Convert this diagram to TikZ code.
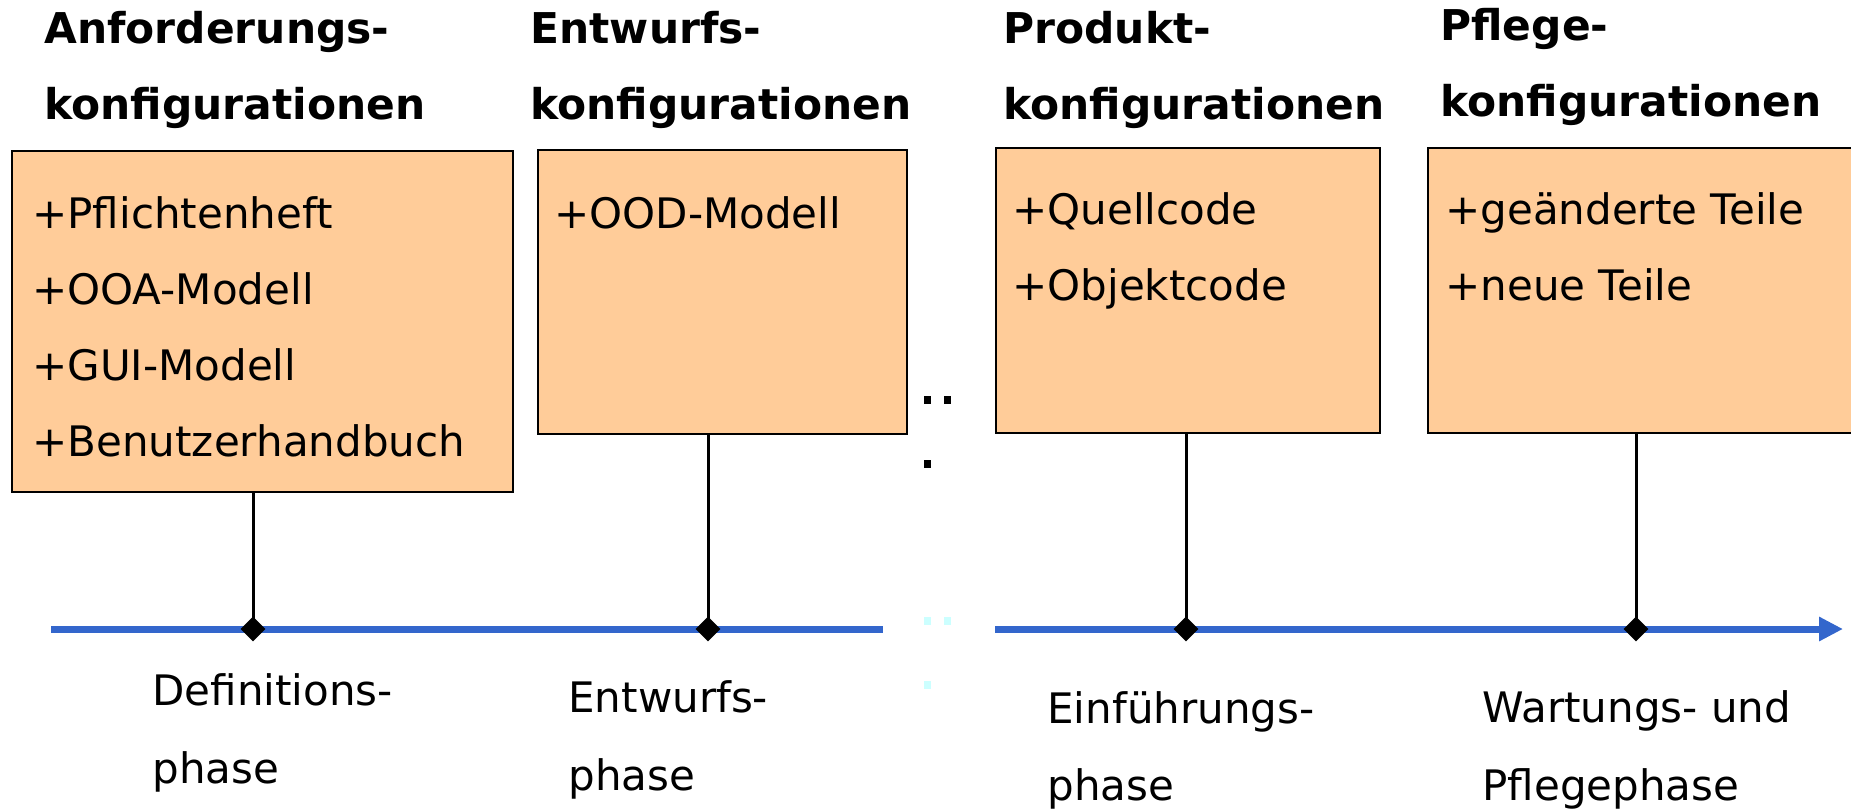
\documentclass[tikz,border=0pt]{standalone}
\usepackage{fontspec}
\setmainfont{DejaVu Sans}
\usetikzlibrary{arrows.meta,shapes.geometric}
\definecolor{peach}{HTML}{FFCC99}
\definecolor{lineblue}{HTML}{3366CC}
\definecolor{dotcyan}{HTML}{CCFFFF}
\begin{document}
\begin{tikzpicture}[x=0.5pt, y=-0.5pt,
	title/.style={anchor=base west, inner sep=0, font=\fontsize{21.2pt}{25pt}\selectfont\bfseries},
	item/.style={anchor=base west, inner sep=0, font=\fontsize{21pt}{25pt}\selectfont},
	cfgbox/.style={draw, line width=1pt, fill=peach, anchor=north west, inner sep=0},
	timeline/.style={lineblue, line width=3.5pt},
	stem/.style={line width=1.5pt},
	milestone/.style={diamond, fill=black, inner sep=0, minimum size=12.5pt}]
	\useasboundingbox (0,0) rectangle (1851,809);
	% Konfigurationen
	\foreach \x/\y/\la/\n in {44/43/Anforderungs-/anf, 530/43/Entwurfs-/entw, 1003/43/Produkt-/prod, 1440/40/Pflege-/pfl} {
		\node[title] (\n-t1) at (\x,\y) {\la};
		\node[title] (\n-t2) at (\x,\y+76) {konfigurationen};
	}
	\node[cfgbox, minimum width=250.5pt, minimum height=170.5pt] (anf) at (11,150) {};
	\node[cfgbox, minimum width=184.5pt, minimum height=142pt] (entw) at (537,149) {};
	\node[cfgbox, minimum width=192pt, minimum height=142.5pt] (prod) at (995,147) {};
	\node[cfgbox, minimum width=216.5pt, minimum height=142.5pt] (pfl) at (1427,147) {};
	\foreach \t [count=\i from 0] in {+Pflichtenheft,+OOA-Modell,+GUI-Modell,+Benutzerhandbuch}
		\node[item] (anf-i\i) at (32,228+76*\i) {\t};
	\node[item] (entw-i0) at (554,228) {+OOD-Modell};
	\foreach \t [count=\i from 0] in {+Quellcode,+Objektcode}
		\node[item] (prod-i\i) at (1012,224+76*\i) {\t};
	\foreach \t [count=\i from 0] in {+geänderte Teile,+neue Teile}
		\node[item] (pfl-i\i) at (1445,224+76*\i) {\t};
	% Zeitachse
	\coordinate (tl-a) at (51,629);
	\coordinate (tl-b) at (883,629);
	\coordinate (tl-c) at (995,629);
	\coordinate (tl-d) at (1843,629);
	\coordinate (m1) at (253,629);
	\coordinate (m2) at (708,629);
	\coordinate (m3) at (1186,629);
	\coordinate (m4) at (1636,629);
	\draw[stem] (anf.south -| m1) -- (m1);
	\draw[stem] (entw.south -| m2) -- (m2);
	\draw[stem] (prod.south -| m3) -- (m3);
	\draw[stem] (pfl.south -| m4) -- (m4);
	\draw[timeline] (tl-a) -- (tl-b);
	\draw[timeline, -{Triangle[length=12pt, width=11.5pt]}] (tl-c) -- (tl-d);
	\foreach \m in {m1,m2,m3,m4}
		\node[milestone] (\m-d) at (\m) {};
	% Auslassung
	\foreach \x/\y in {927/400, 947/400, 927/464}
		\fill (\x-3.5,\y-4) rectangle ++(7,8);
	\foreach \x/\y in {927/621, 947/621, 927/685}
		\fill[dotcyan] (\x-3.5,\y-4) rectangle ++(7,8);
	% Phasen
	\node[item] (def-p1) at (152,705) {Definitions-};
	\node[item] (def-p2) at (152,783) {phase};
	\node[item] (ent-p1) at (568,712) {Entwurfs-};
	\node[item] (ent-p2) at (568,790) {phase};
	\node[item] (ein-p1) at (1047,723) {Einführungs-};
	\node[item] (ein-p2) at (1047,800) {phase};
	\node[item] (war-p1) at (1482,722) {Wartungs- und};
	\node[item] (war-p2) at (1482,800) {Pflegephase};
\end{tikzpicture}
\end{document}
